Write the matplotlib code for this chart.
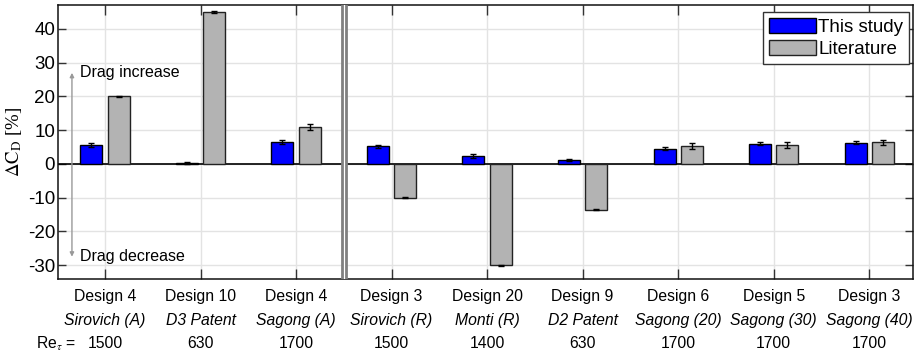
import numpy as np
import matplotlib
matplotlib.use('Agg')
from matplotlib import pyplot as plt

plt.rcParams['font.family'] = ['Liberation Sans', 'DejaVu Sans']
plt.rcParams['axes.unicode_minus'] = False
plt.rcParams['mathtext.fontset'] = 'stix'

designs = ['Design 4', 'Design 10', 'Design 4', 'Design 3', 'Design 20',
           'Design 9', 'Design 6', 'Design 5', 'Design 3']
sources = ['Sirovich (A)', 'D3 Patent', 'Sagong (A)', 'Sirovich (R)', 'Monti (R)',
           'D2 Patent', 'Sagong (20)', 'Sagong (30)', 'Sagong (40)']
re_tau = ['1500', '630', '1700', '1500', '1400', '630', '1700', '1700', '1700']

this_study = [5.5, 0.3, 6.5, 5.2, 2.3, 1.1, 4.5, 6.0, 6.3]
this_err = [0.6, 0.2, 0.6, 0.5, 0.5, 0.3, 0.5, 0.5, 0.5]
literature = [20.0, 45.0, 11.0, -10.0, -30.0, -13.6, 5.3, 5.6, 6.4]
lit_err = [0.2, 0.2, 0.9, 0.1, 0.1, 0.1, 0.8, 0.8, 0.8]

x = np.arange(1, len(designs) + 1)
off = 0.143
w = 0.23

fig = plt.figure(figsize=(9.17, 3.55), dpi=100)
ax = fig.add_axes([58 / 917, 1 - 279 / 355, 855 / 917, 274 / 355])

ax.bar(x - off, this_study, w, color='#0000ff', edgecolor='black', linewidth=1,
       label='This study', zorder=3)
ax.bar(x + off, literature, w, color='#b3b3b3', edgecolor='#222222', linewidth=1,
       label='Literature', zorder=3)
ax.errorbar(x - off, this_study, yerr=this_err, fmt='none', ecolor='black',
            elinewidth=1, capsize=2.5, capthick=1, zorder=4)
ax.errorbar(x + off, literature, yerr=lit_err, fmt='none', ecolor='black',
            elinewidth=1, capsize=2.5, capthick=1, zorder=4)

ax.axhline(0, color='black', lw=1.2, zorder=2)

# separator between the two groups
ax.axvspan(3.48, 3.52, color='white', zorder=5, lw=0)
ax.axvline(3.478, color='#808080', lw=2, zorder=6)
ax.axvline(3.522, color='#808080', lw=2, zorder=6)

ax.set_xlim(0.508, 9.458)
ax.set_ylim(-34.1, 47.1)
ax.set_xticks(x)
ax.set_xticklabels([])
ax.set_yticks(np.arange(-30, 41, 10))
ax.tick_params(axis='y', labelsize=13.5, direction='in', length=6, width=1,
               right=True, color='#333333', pad=2)
ax.tick_params(axis='x', direction='in', length=7, width=1, top=True, color='#333333')
ax.grid(True, color='#e3e3e3', lw=1, zorder=0)
ax.set_axisbelow(True)
for s in ax.spines.values():
    s.set_linewidth(1.1)
    s.set_color('#111111')

ax.set_ylabel(r'$\Delta\mathrm{C}_\mathrm{D}$ [%]', fontsize=13.5,
              fontfamily='Liberation Serif', labelpad=3)

# drag arrows
ax.annotate('', xy=(0.654, 27.0), xytext=(0.654, -27.5),
            arrowprops=dict(arrowstyle='<|-|>', color='#999999', lw=1.0,
                            mutation_scale=6, shrinkA=0, shrinkB=0))
ax.text(0.735, 27.0, 'Drag increase', fontsize=11.5, va='center', ha='left')
ax.text(0.735, -27.3, 'Drag decrease', fontsize=11.5, va='center', ha='left')

trans = ax.get_xaxis_transform()
for i in range(len(designs)):
    ax.text(x[i], -0.0646, designs[i], transform=trans, ha='center', va='center',
            fontsize=11.3)
    ax.text(x[i], -0.152, sources[i], transform=trans, ha='center', va='center',
            fontsize=11.3, style='italic')
    ax.text(x[i], -0.2336, re_tau[i], transform=trans, ha='center', va='center',
            fontsize=11.3)
fig.text(36 / 917, 1 - 344 / 355, r'Re$_\tau$ =', fontsize=11.3, ha='left', va='center')

leg = ax.legend(loc='upper right', bbox_to_anchor=((909 - 58) / 855, (279 - 12) / 274),
                borderaxespad=0, fontsize=13.5, fancybox=False, framealpha=1,
                edgecolor='#333333', handlelength=2.5, handleheight=0.9,
                handletextpad=0.15, borderpad=0.3, labelspacing=0.2)
leg.get_frame().set_linewidth(1)
leg.set_zorder(10)

fig.savefig('out.png', dpi=100)
